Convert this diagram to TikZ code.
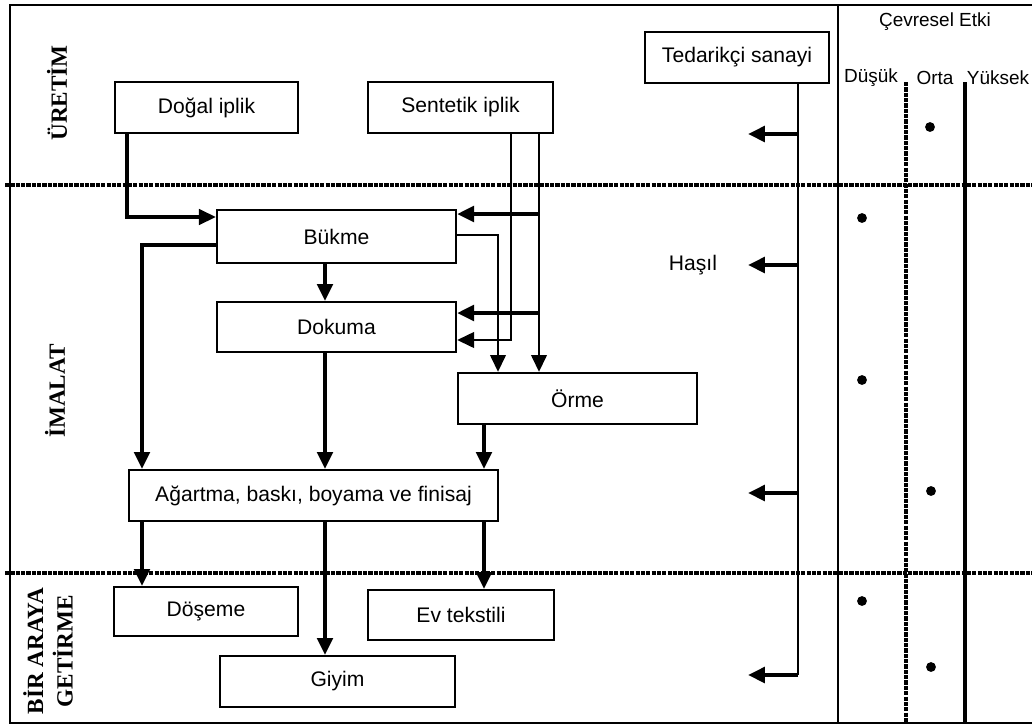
\documentclass[tikz,border=0pt]{standalone}
\usepackage{fontspec}
\setmainfont{Liberation Sans}
\newfontfamily\stagefont{Liberation Serif}
\usetikzlibrary{arrows.meta}

\begin{document}
\begin{tikzpicture}[x=0.025cm, y=-0.025cm, font=\fontsize{15}{17}\selectfont]
\tikzset{box/.style = {shape=rectangle, draw, line width=1.6pt, inner sep=0pt}}
\tikzset{edge/.style = {draw, line width=2.8pt, -{Triangle[length=12pt,width=11pt]}}}
\tikzset{thinedge/.style = {draw, line width=1.8pt, -{Triangle[length=12pt,width=11pt]}}}
\tikzset{zone/.style = {line width=2.4pt, dash pattern=on 3pt off 0.8pt}}
\tikzset{stage/.style = {rotate=90, align=center, font=\stagefont\bfseries\fontsize{16.5}{21}\selectfont}}
\tikzset{level/.style = {inner sep=1pt, font=\fontsize{13.5}{15}\selectfont}}
\useasboundingbox (0,0) rectangle (1032,726);

% frame and zones
\draw[zone] (5,185) -- (1032,185);
\draw[zone] (5,573) -- (1032,573);
\draw[line width=1.4pt] (1032,5) -- (10,5) -- (10,723) -- (1032,723);
\draw[line width=1.4pt] (838,5) -- (838,723);
\draw[zone, line width=3.2pt] (906,82) -- (906,723);
\draw[line width=3.2pt] (965,82) -- (965,723);

% stage labels
\node[stage] (uretim) at (57,93) {ÜRETİM};
\node[stage] (imalat) at (55,391) {İMALAT};
\node[stage] (biraraya) at (48,651) {BİR ARAYA\\GETİRME};

% boxes
\node[box, minimum width=4.575cm, minimum height=1.275cm] (dogal) at (206.5,107.5) {Doğal iplik};
\node[box, minimum width=4.625cm, minimum height=1.275cm] (sentetik) at (460.5,107.5) {Sentetik iplik};
\node[box, minimum width=4.6cm, minimum height=1.275cm] (tedarik) at (737,57.5) {Tedarikçi sanayi};
\node[box, minimum width=5.975cm, minimum height=1.325cm] (bukme) at (336.5,236.5) {Bükme};
\node[box, minimum width=5.975cm, minimum height=1.25cm] (dokuma) at (336.5,327) {Dokuma};
\node[box, minimum width=5.975cm, minimum height=1.275cm] (orme) at (577.5,398.5) {Örme};
\node[box, minimum width=9.225cm, minimum height=1.275cm] (agartma) at (313.5,495.5) {Ağartma, baskı, boyama ve finisaj};
\node[box, minimum width=4.6cm, minimum height=1.225cm] (doseme) at (206,611.5) {Döşeme};
\node[box, minimum width=4.65cm, minimum height=1.25cm] (evtekstil) at (461,615) {Ev tekstili};
\node[box, minimum width=5.875cm, minimum height=1.275cm] (giyim) at (337.5,681.5) {Giyim};
\node (hasil) at (693,265) {Haşıl};

% environmental impact
\node[level] (etki) at (935,22) {Çevresel Etki};
\node[level] (dusuk) at (871,78) {Düşük};
\node[level] (orta) at (935,78) {Orta};
\node[level] (yuksek) at (998,78) {Yüksek};
\fill (930,127) circle (3.5pt);
\fill (862,218) circle (3.5pt);
\fill (862,380) circle (3.5pt);
\fill (931,491) circle (3.5pt);
\fill (862,601) circle (3.5pt);
\fill (931,667) circle (3.5pt);

% yarns
\coordinate (k1) at (127,217);
\coordinate (s1) at (511,340);
\coordinate (s2) at (539,214);
\coordinate (s3) at (539,313);
\draw[edge, line width=2.2pt] (dogal.south -| k1) |- (bukme.west |- k1);
\draw[thinedge] (sentetik.south -| s1) |- (dokuma.east |- s1);
\draw[thinedge] (sentetik.south -| s2) -- (orme.north -| s2);
\draw[edge] (s2) -- (bukme.east |- s2);
\draw[edge] (s3) -- (dokuma.east |- s3);

% processing
\coordinate (b1) at (498,235);
\coordinate (b2) at (142,245);
\coordinate (colB) at (325,0);
\coordinate (colC) at (484,0);
\draw[thinedge] (bukme.east |- b1) -| (orme.north -| b1);
\draw[edge] (bukme.west |- b2) -| (agartma.north -| b2);
\draw[edge] (bukme.south -| colB) -- (dokuma.north -| colB);
\draw[edge] (dokuma.south -| colB) -- (agartma.north -| colB);
\draw[edge] (orme.south -| colC) -- (agartma.north -| colC);
\draw[edge] (agartma.south -| b2) -- (doseme.north -| b2);
\draw[edge] (agartma.south -| colB) -- (giyim.north -| colB);
\draw[edge] (agartma.south -| colC) -- (evtekstil.north -| colC);

% supply industry
\coordinate (t0) at (798,675);
\coordinate (t1) at (748,134);
\coordinate (t2) at (748,265);
\coordinate (t3) at (748,493);
\coordinate (t4) at (748,675);
\draw[line width=2pt] (tedarik.south -| t0) -- (t0);
\draw[edge] (t0) -- (t4);
\draw[edge] (t1 -| t0) -- (t1);
\draw[edge] (t2 -| t0) -- (t2);
\draw[edge] (t3 -| t0) -- (t3);
\end{tikzpicture}
\end{document}
